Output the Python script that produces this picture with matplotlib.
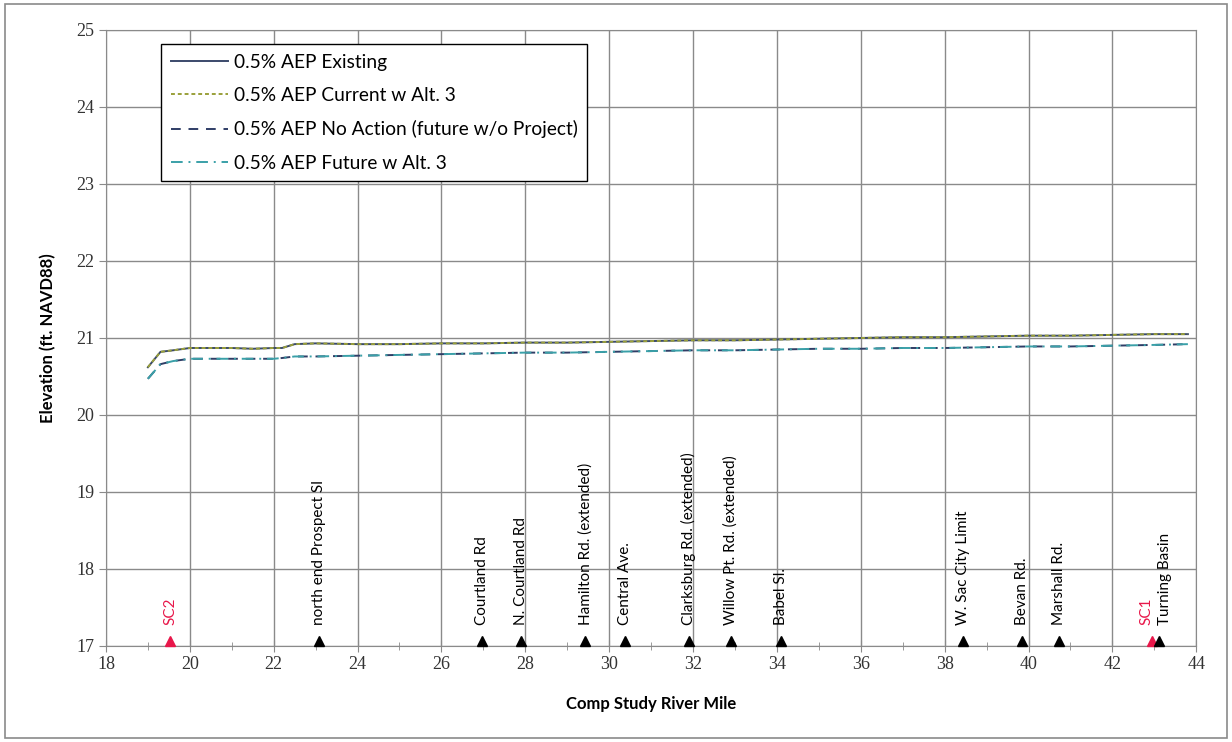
import numpy as np
import matplotlib.pyplot as plt
from matplotlib.patches import Rectangle

# river mile / water surface elevation
river_mile = [19.0, 19.3, 19.6, 20.0, 20.5, 21.0, 21.5, 22.0, 22.2, 22.5, 23.0, 24.0,
              25.0, 26.0, 27.0, 28.0, 29.0, 30.0, 31.0, 32.0, 33.0, 34.0, 35.0, 36.0,
              37.0, 38.0, 39.0, 40.0, 41.0, 42.0, 43.0, 43.8]
existing = [20.62, 20.82, 20.84, 20.87, 20.87, 20.87, 20.86, 20.87, 20.87, 20.92, 20.93, 20.92,
            20.92, 20.93, 20.93, 20.94, 20.94, 20.95, 20.96, 20.97, 20.97, 20.98, 20.99, 21.00,
            21.01, 21.01, 21.02, 21.03, 21.03, 21.04, 21.05, 21.05]
current_alt3 = [20.62, 20.82, 20.84, 20.87, 20.87, 20.87, 20.86, 20.87, 20.87, 20.92, 20.93, 20.92,
                20.92, 20.93, 20.93, 20.94, 20.94, 20.95, 20.96, 20.97, 20.97, 20.98, 20.99, 21.00,
                21.01, 21.01, 21.02, 21.03, 21.03, 21.04, 21.05, 21.05]
no_action = [20.47, 20.66, 20.70, 20.73, 20.73, 20.73, 20.73, 20.73, 20.74, 20.76, 20.76, 20.77,
             20.78, 20.79, 20.80, 20.81, 20.81, 20.82, 20.83, 20.84, 20.84, 20.85, 20.86, 20.86,
             20.87, 20.87, 20.88, 20.89, 20.89, 20.90, 20.91, 20.92]
future_alt3 = [20.47, 20.66, 20.70, 20.73, 20.73, 20.73, 20.73, 20.73, 20.74, 20.76, 20.76, 20.77,
               20.78, 20.79, 20.80, 20.81, 20.81, 20.82, 20.83, 20.84, 20.84, 20.85, 20.86, 20.86,
               20.87, 20.87, 20.88, 20.89, 20.89, 20.90, 20.91, 20.92]

# landmarks along the channel
landmark_names = ['SC2', 'north end Prospect Sl', 'Courtland Rd', 'N. Courtland Rd',
                  'Hamilton Rd. (extended)', 'Central Ave.', 'Clarksburg Rd. (extended)',
                  'Willow Pt. Rd. (extended)', 'Babel Sl.', 'W. Sac City Limit', 'Bevan Rd.',
                  'Marshall Rd.', 'SC1', 'Turning Basin']
landmark_miles = [19.53, 23.08, 26.97, 27.90, 29.43, 30.38, 31.90, 32.90, 34.10,
                  38.44, 39.85, 40.73, 42.95, 43.12]
landmark_red = ['SC2', 'SC1']

plt.rcParams['font.family'] = ['Lato', 'DejaVu Sans']

fig = plt.figure(figsize=(12.32, 7.42), dpi=100)
ax = fig.add_axes([0.086, 0.1294, 0.885, 0.8302])

ax.plot(river_mile, existing, color='#3b4a6b', lw=1.4, label='0.5% AEP Existing')
ax.plot(river_mile, current_alt3, color='#9aa03a', lw=1.4, ls=(0, (2, 1.5)),
        label='0.5% AEP Current w Alt. 3')
ax.plot(river_mile, no_action, color='#2f3d66', lw=1.4, ls=(0, (5, 4)),
        label='0.5% AEP No Action (future w/o Project)')
ax.plot(river_mile, future_alt3, color='#3aa0a8', lw=1.4, ls=(0, (6, 3, 1, 3)),
        label='0.5% AEP Future w Alt. 3')

# landmark triangles and rotated labels
for name, mile in zip(landmark_names, landmark_miles):
    c = '#e8174a' if name in landmark_red else 'black'
    ax.plot(mile, 17.06, marker='^', color=c, ms=7, clip_on=False, zorder=5)
    dx = 0
    if name == 'SC1':
        dx = -4
    elif name == 'Turning Basin':
        dx = 4
    ax.annotate(name, xy=(mile, 17.0), xytext=(dx, 15), textcoords='offset points',
                rotation=90, ha='center', va='bottom', fontsize=11, color=c)

ax.set_xlim(18, 44)
ax.set_ylim(17, 25)
ax.set_xticks(np.arange(18, 45, 2))
ax.set_xticks(np.arange(18, 45, 1), minor=True)
ax.set_yticks(np.arange(17, 26, 1))
ax.grid(True, which='major', color='#8a8a8a', lw=1.0)
ax.set_axisbelow(True)
for s in ax.spines.values():
    s.set_color('#8a8a8a')
ax.tick_params(which='both', direction='inout', color='#8a8a8a', length=8)
ax.tick_params(which='minor', length=6)
ax.tick_params(axis='y', direction='out', length=5)
for lab in ax.get_xticklabels() + ax.get_yticklabels():
    lab.set_fontfamily('Liberation Serif')
    lab.set_fontsize(13)
    lab.set_color('#333333')

ax.set_xlabel('Comp Study River Mile', fontsize=12, fontweight='bold', labelpad=16)
ax.set_ylabel('Elevation (ft. NAVD88)', fontsize=12, fontweight='bold', labelpad=14)

leg = ax.legend(loc='upper left', bbox_to_anchor=(0.0505, 0.977), fontsize=13.8,
                handlelength=3.0, labelspacing=0.85, fancybox=False, framealpha=1,
                borderpad=0.5, handletextpad=0.3, borderaxespad=0)
leg.get_frame().set_edgecolor('black')
leg.get_frame().set_linewidth(1.0)

# outer chart border
fig.patches.append(Rectangle((0.004, 0.006), 0.992, 0.988, transform=fig.transFigure,
                             fill=False, edgecolor='#8a8a8a', lw=1.2))

fig.savefig('out.png', dpi=100)
